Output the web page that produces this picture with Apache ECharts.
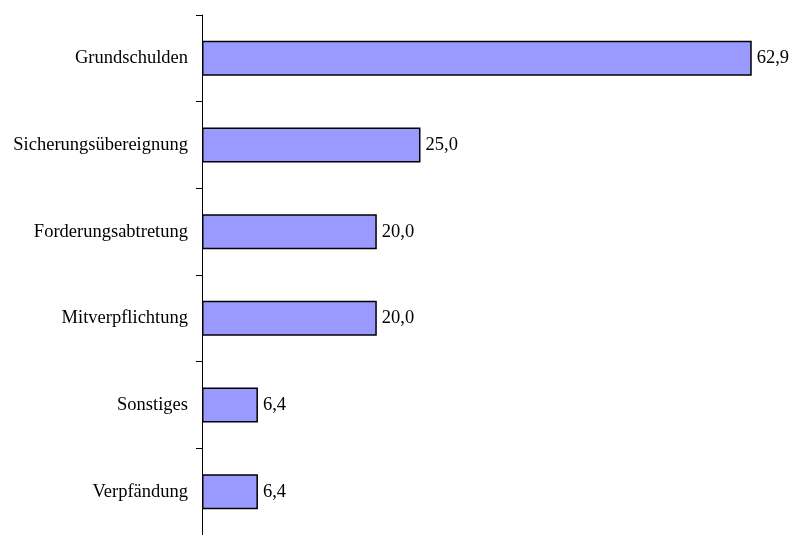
<!DOCTYPE html>
<html><head><meta charset="utf-8">
<script src="https://cdn.jsdelivr.net/npm/echarts@6/dist/echarts.min.js"></script>
<style>html,body{margin:0;padding:0;background:#fff}#c{width:793px;height:535px}</style>
</head><body><div id="c"></div>
<script>
const categories = ["Grundschulden","Sicherungsübereignung","Forderungsabtretung","Mitverpflichtung","Sonstiges","Verpfändung"];
const values = [62.9, 25.0, 20.0, 20.0, 6.4, 6.4];

const chart = echarts.init(document.getElementById('c'), null, {renderer:'canvas'});
const font = '"Liberation Serif","Times New Roman",serif';
chart.setOption({
  animation:false,
  grid:{left:202, right:22.9, top:15, bottom:-5, containLabel:false},
  xAxis:{type:'value', min:0, max:65, show:false},
  yAxis:{type:'category', inverse:true, data:categories,
    axisLine:{show:true, lineStyle:{color:'#000', width:1}},
    axisTick:{show:true, inside:false, length:6, lineStyle:{color:'#000'}},
    axisLabel:{color:'#000', fontFamily:font, fontSize:18.5, margin:14},
    splitLine:{show:false}},
  series:[{type:'bar', data:values, barWidth:35,
    itemStyle:{color:'#9999FF', borderColor:'#000', borderWidth:1.5},
    label:{show:true, position:'right', distance:5, color:'#000', fontFamily:font, fontSize:18.5,
      formatter:p=>p.value.toFixed(1).replace('.',',')}}]
});
</script></body></html>
